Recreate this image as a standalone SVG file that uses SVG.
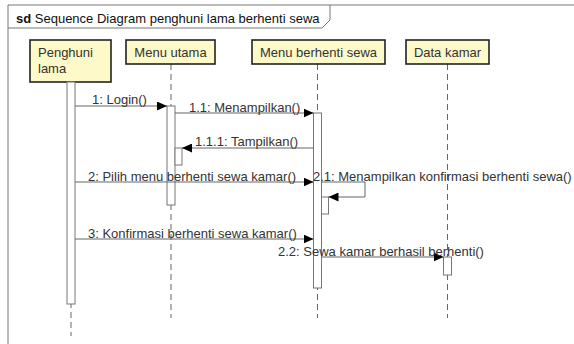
<svg xmlns="http://www.w3.org/2000/svg" width="574" height="344" viewBox="0 0 574 344">
<defs>
<style>
text{font-family:"Liberation Sans",Arial,sans-serif;font-size:13px;fill:#333}
.head{fill:#fdf9c9;stroke:#222;stroke-width:1.6}
.life{stroke:#666;stroke-width:1;stroke-dasharray:6,4;fill:none}
.act{fill:#fff;stroke:#777;stroke-width:1}
.msg{stroke:#666;stroke-width:1;fill:none;marker-end:url(#arr)}
.frame{stroke:#777;stroke-width:1;fill:none}
</style>
<marker id="arr" markerUnits="userSpaceOnUse" markerWidth="11" markerHeight="9" refX="10" refY="4.5" orient="auto">
<path d="M0,0 L10,4.5 L0,9 z" fill="#000"/>
</marker>
</defs>
<rect width="574" height="344" fill="#fff"/>
<g id="frame">
<path class="frame" d="M8,5 H580 M8,5 V350"/>
<path class="frame" d="M8,28 H322 L330,20 V5"/>
<text x="16" y="23" style="fill:#111;font-size:13px"><tspan font-weight="bold">sd</tspan> Sequence Diagram penghuni lama berhenti sewa</text>
</g>
<g id="penghuni">
<line class="life" x1="71" y1="82" x2="71" y2="336"/>
<rect class="head" x="30" y="40" width="81" height="42"/>
<text x="38" y="57">Penghuni</text>
<text x="38" y="73">lama</text>
<rect class="act" x="67" y="82" width="8" height="222"/>
</g>
<g id="menu-utama">
<line class="life" x1="171" y1="64" x2="171" y2="318"/>
<rect class="head" x="126" y="40" width="89" height="24"/>
<text x="170.5" y="57" text-anchor="middle">Menu utama</text>
<rect class="act" x="167" y="106" width="8" height="99"/>
<rect class="act" x="175" y="148" width="7" height="17"/>
</g>
<g id="menu-berhenti-sewa">
<line class="life" x1="317.5" y1="64" x2="317.5" y2="318"/>
<rect class="head" x="252" y="40" width="133" height="24"/>
<text x="318.5" y="57" text-anchor="middle">Menu berhenti sewa</text>
<rect class="act" x="313.5" y="113" width="8" height="175"/>
<rect class="act" x="321.5" y="197" width="7" height="17"/>
</g>
<g id="data-kamar">
<line class="life" x1="447.5" y1="64" x2="447.5" y2="318"/>
<rect class="head" x="406" y="40" width="83" height="24"/>
<text x="447.5" y="57" text-anchor="middle">Data kamar</text>
<rect class="act" x="443.5" y="257" width="8" height="18"/>
</g>
<g id="connectors">
<line class="msg" x1="75" y1="106" x2="167" y2="106"/>
<text x="92" y="104">1: Login()</text>
<line class="msg" x1="175" y1="113" x2="313.5" y2="113"/>
<text x="189" y="112">1.1: Menampilkan()</text>
<line class="msg" x1="313.5" y1="148" x2="182" y2="148"/>
<text x="195" y="146">1.1.1: Tampilkan()</text>
<line class="msg" x1="75" y1="182" x2="313.5" y2="182"/>
<text x="88" y="181">2: Pilih menu berhenti sewa kamar()</text>
<path class="msg" d="M321.5,182 H365 V197 H328.5"/>
<text x="313" y="181">2.1: Menampilkan konfirmasi berhenti sewa()</text>
<line class="msg" x1="75" y1="239" x2="313.5" y2="239"/>
<text x="88" y="238">3: Konfirmasi berhenti sewa kamar()</text>
<line class="msg" x1="321.5" y1="257" x2="443.5" y2="257"/>
<text x="278" y="256">2.2: Sewa kamar berhasil berhenti()</text>
</g>
</svg>
